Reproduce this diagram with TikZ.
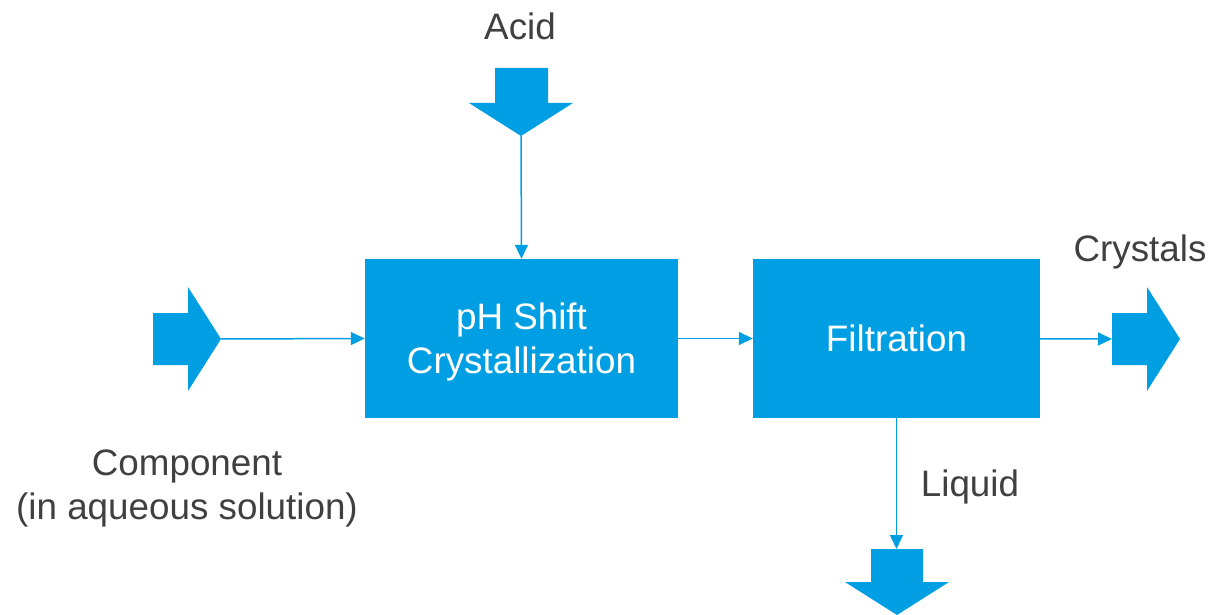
\documentclass[tikz,border=0pt]{standalone}
\usepackage{fontspec}
\setmainfont{Liberation Sans}
\usepackage{xcolor}
\usetikzlibrary{arrows.meta, positioning}

\definecolor{procblue}{HTML}{009FE3}
\definecolor{labelgray}{HTML}{404040}

\begin{document}
\begin{tikzpicture}[x=1pt, y=-1pt, >={Triangle[length=14pt, width=13pt]},
    procbox/.style={fill=procblue, text=white, inner sep=0pt, align=center,
        minimum width=313pt, minimum height=159pt, text depth=0pt,
        font=\fontsize{36.8}{44}\selectfont},
    flow/.style={->, draw=procblue, line width=1.5pt},
    lbl/.style={text=labelgray, inner sep=0pt, align=center, anchor=base,
        font=\fontsize{36.8}{44}\selectfont}]
    \useasboundingbox (0,0) rectangle (1227,615);

    % 1. Hai khối xử lý
    \node[procbox] (cryst) at (521.5,338.5) {pH Shift\\Crystallization};
    \node[procbox, minimum width=287pt] (filt) at (896.5,338.5) {Filtration};

    % 2. Mũi tên khối: vào (trái), axit (trên), tinh thể (phải), chất lỏng (dưới)
    \fill[procblue] (153,313) -- (188,313) -- (188,287) -- (221,339)
        -- (188,391) -- (188,365) -- (153,365) -- cycle;
    \coordinate (inTip) at (221,339);
    \fill[procblue] (495,68) -- (548,68) -- (548,103) -- (573,103)
        -- (521,136) -- (469,103) -- (495,103) -- cycle;
    \coordinate (acidTip) at (521,136);
    \fill[procblue] (1112,313) -- (1147,313) -- (1147,287) -- (1180,339)
        -- (1147,391) -- (1147,365) -- (1112,365) -- cycle;
    \coordinate (outTail) at (1112,339);
    \fill[procblue] (871,549) -- (923,549) -- (923,582) -- (949,582)
        -- (897,615) -- (845,582) -- (871,582) -- cycle;
    \coordinate (liqTail) at (896.5,549);

    % 3. Đường nối
    \draw[flow] (inTip) -- (cryst.west);
    \draw[flow] (acidTip) -- (cryst.north);
    \draw[flow] (cryst) -- (filt);
    \draw[flow] (filt) -- (outTail);
    \draw[flow] (filt) -- (liqTail);

    % 4. Nhãn
    \node[lbl] (acid) at (520,40) {Acid};
    \node[lbl] (crystals) at (1140,261) {Crystals};
    \node[lbl] (comp) at (187,519) {Component\\(in aqueous solution)};
    \node[lbl] (liquid) at (970,496) {Liquid};
\end{tikzpicture}
\end{document}
